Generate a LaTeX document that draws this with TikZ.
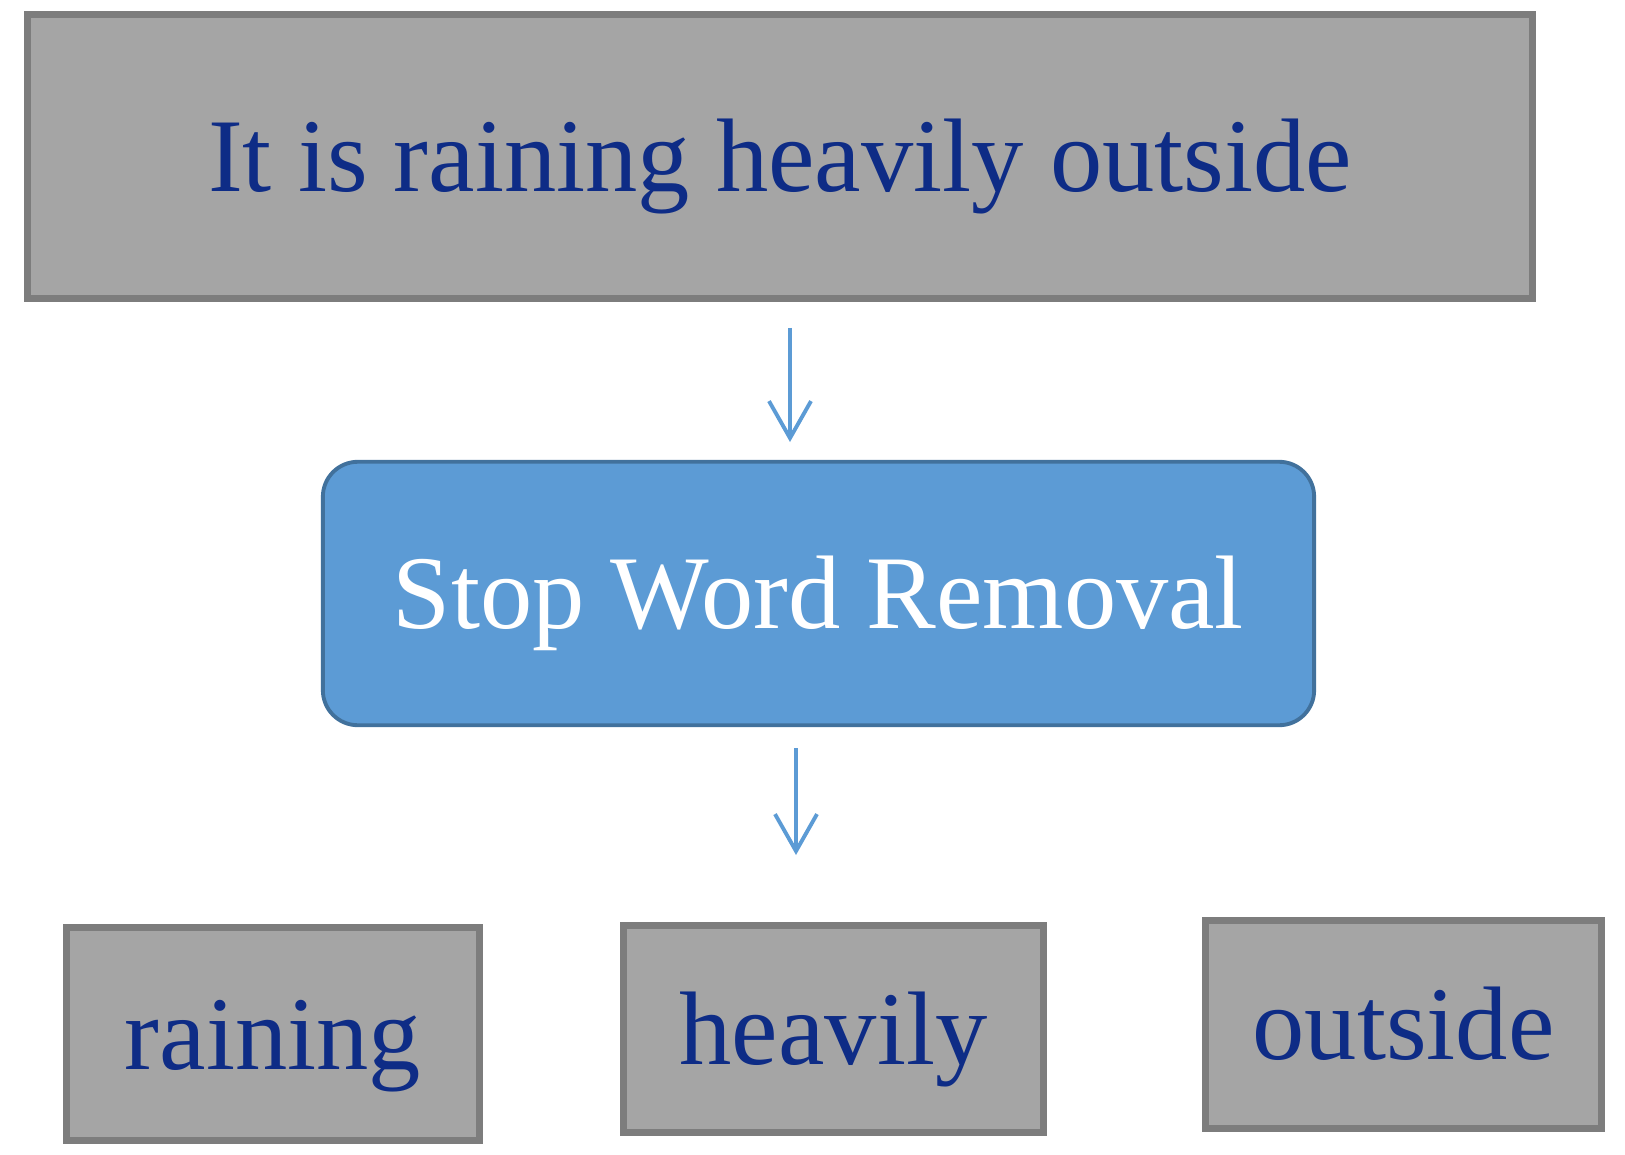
\documentclass[tikz,border=0pt]{standalone}
\usepackage{fontspec}
\setmainfont{Liberation Serif}
\usetikzlibrary{arrows.meta,calc,positioning}

\definecolor{boxgray}{RGB}{165,165,165}
\definecolor{edgegray}{RGB}{125,125,125}
\definecolor{wordblue}{RGB}{14,44,134}
\definecolor{stepblue}{RGB}{92,155,213}
\definecolor{stepedge}{RGB}{65,113,156}

\begin{document}
\begin{tikzpicture}[x=0.02cm,y=-0.02cm,
  bigfont/.style={font=\fontsize{59.5}{70}\selectfont, text height=1.9cm, text depth=0.5cm, inner sep=0pt},
  graybox/.style={bigfont, rectangle, draw=edgegray, line width=4pt, fill=boxgray, text=wordblue},
  stepbox/.style={bigfont, rectangle, rounded corners=0.7cm, draw=stepedge, line width=2.2pt, fill=stepblue, text=white},
  flow/.style={draw=stepblue, line width=2.2pt, -{Straight Barb[length=0.74cm, width=0.84cm, line width=2.2pt]}}]

  \useasboundingbox (0,0) rectangle (1625,1155);

  %% sentence
  \node [graybox, minimum width=30.1cm, minimum height=5.68cm] (sentence) at (780,156.5) {It is raining heavily outside};

  %% step
  \node [stepbox, minimum width=19.83cm, minimum height=5.27cm] (stopword) at (818.5,593.5) {Stop Word Removal};

  %% tokens
  \node [graybox, minimum width=8.26cm, minimum height=4.26cm] (raining) at (273,1034) {raining};
  \node [graybox, minimum width=8.4cm, minimum height=4.14cm] (heavily) at (833.5,1029) {heavily};
  \node [graybox, minimum width=7.92cm, minimum height=4.16cm] (outside) at (1403.5,1024.5) {outside};

  %% arrows
  \coordinate (flow1a) at ($(sentence.south)+(10,26)$);
  \coordinate (flow1b) at (flow1a |- 0,442);
  \coordinate (flow2a) at ($(stopword.south)+(-22.5,21)$);
  \coordinate (flow2b) at (flow2a |- 0,855);
  \draw [flow] (flow1a) -- (flow1b);
  \draw [flow] (flow2a) -- (flow2b);
\end{tikzpicture}
\end{document}
